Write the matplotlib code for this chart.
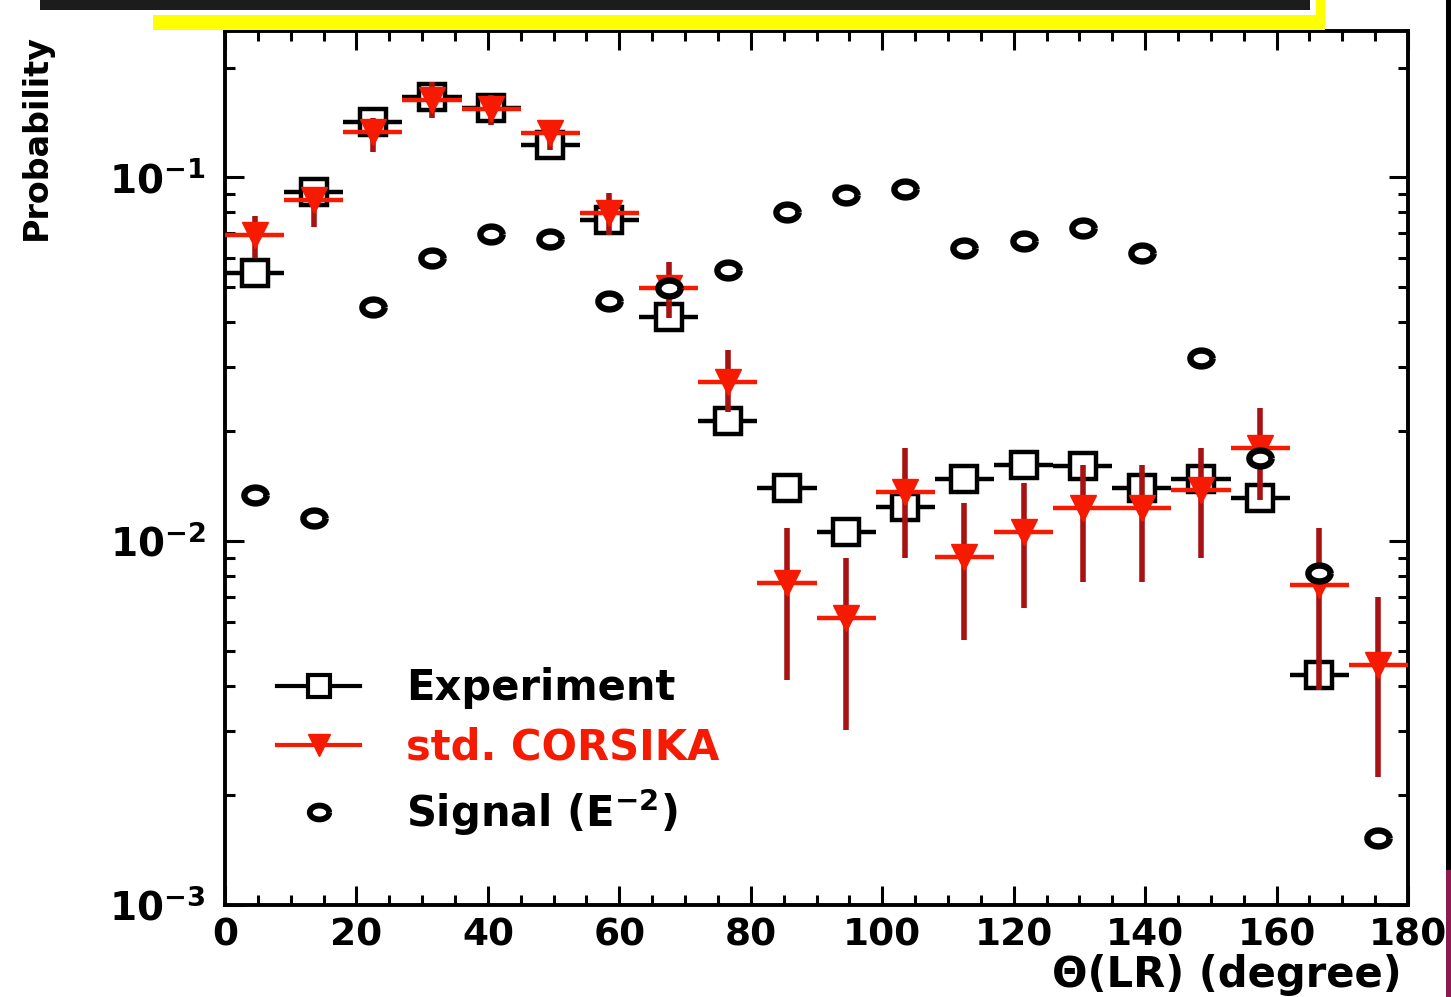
import numpy as np
import matplotlib.pyplot as plt
from matplotlib.ticker import MultipleLocator, LogLocator, NullFormatter, FuncFormatter
from matplotlib.lines import Line2D
from matplotlib.patches import Rectangle

# bin centres of theta(LR), 9 degree bins
theta = [4.5, 13.5, 22.5, 31.5, 40.5, 49.5, 58.5, 67.5, 76.5, 85.5,
         94.5, 103.5, 112.5, 121.5, 130.5, 139.5, 148.5, 157.5, 166.5, 175.5]
half_bin = 4.5

experiment = [0.0545, 0.091, 0.1415, 0.166, 0.155, 0.1225, 0.0762, 0.0412, 0.0214, 0.0140,
              0.01058, 0.0124, 0.0148, 0.0162, 0.0161, 0.0140, 0.0148, 0.0131, 0.00428, np.nan]

corsika = [0.0693, 0.0865, 0.133, 0.163, 0.154, 0.132, 0.0796, 0.0496, 0.0273, 0.00767,
           0.00614, 0.01364, 0.00904, 0.01058, 0.01232, 0.01232, 0.01381, 0.01801, 0.00757, 0.00456]
corsika_hi = [0.0781, 0.0939, 0.145, 0.182, 0.168, 0.1436, 0.0903, 0.0584, 0.0335, 0.01086,
              0.00898, 0.01801, 0.01272, 0.01443, 0.01617, 0.01617, 0.01801, 0.02319, 0.01086, 0.00702]
corsika_lo = [0.0599, 0.0729, 0.117, 0.145, 0.139, 0.1186, 0.0693, 0.0410, 0.0226, 0.00415,
              0.00303, 0.00898, 0.00535, 0.00655, 0.00772, 0.00772, 0.00898, 0.01297, 0.00390, 0.00225]

signal = [0.01336, 0.01156, 0.0439, 0.0599, 0.0697, 0.0676, 0.0457, 0.0496, 0.0555, 0.0802,
          0.0892, 0.0927, 0.0638, 0.0667, 0.0724, 0.0618, 0.0318, 0.0169, 0.00817, 0.00153]

plt.rcParams['font.family'] = 'DejaVu Sans'
plt.rcParams['font.weight'] = 'bold'
plt.rcParams['mathtext.fontset'] = 'dejavusans'
plt.rcParams['mathtext.default'] = 'bf'

W, H = 1451, 997
fig = plt.figure(figsize=(W / 100, H / 100), dpi=100)
ax = fig.add_axes([225 / W, 1 - 905 / H, (1408 - 225) / W, (905 - 31) / H])

red = '#f51a00'
dark_red = '#a81212'

# experiment
ax.errorbar(theta, experiment, xerr=half_bin, fmt='s', ms=19, mfc='white', mec='black',
            mew=3.2, ecolor='black', elinewidth=3.2, capsize=0, zorder=3)

# std. CORSIKA
c = np.array(corsika)
yerr = [c - np.array(corsika_lo), np.array(corsika_hi) - c]
ax.errorbar(theta, corsika, yerr=yerr, fmt='none', ecolor=dark_red, elinewidth=4,
            capsize=0, zorder=4)
ax.errorbar(theta, corsika, xerr=half_bin, fmt='v', ms=19, color=red, mec=red,
            elinewidth=3.2, capsize=0, zorder=5)

# signal, slightly flattened open circle
t = np.linspace(0, 2 * np.pi, 40)
ellipse = np.column_stack([1.4 * np.cos(t), np.sin(t)])
ax.plot(theta, signal, linestyle='none', marker=ellipse, ms=16, mfc='white', mec='black',
        mew=4.6, zorder=6)

ax.set_yscale('log')
ax.set_xlim(0, 180)
ax.set_ylim(1e-3, 0.252)

ax.xaxis.set_major_locator(MultipleLocator(20))
ax.xaxis.set_minor_locator(MultipleLocator(5))
ax.yaxis.set_major_locator(LogLocator(base=10))
ax.yaxis.set_minor_locator(LogLocator(base=10, subs=np.arange(2, 10)))
ax.yaxis.set_minor_formatter(NullFormatter())
ax.yaxis.set_major_formatter(FuncFormatter(lambda v, p: r'$10^{%d}$' % round(np.log10(v))))

ax.tick_params(which='both', direction='in', top=True, right=True, width=2.2, colors='black')
ax.tick_params(which='major', length=14)
ax.tick_params(which='minor', length=7)
ax.tick_params(axis='x', labelsize=27, pad=9)
ax.tick_params(axis='y', labelsize=28, pad=14)
for s in ax.spines.values():
    s.set_linewidth(2.8)

ax.set_xlabel('Θ(LR) (degree)', fontsize=30, fontweight='bold', ha='right', x=0.995, labelpad=0)
fig.text(36 / W, 1 - 34 / H, 'Probability', rotation=90, fontsize=24, fontweight='bold',
         ha='center', va='top')

handles = [
    Line2D([], [], color='black', lw=3, marker='s', ms=16, mfc='white', mec='black', mew=3),
    Line2D([], [], color=red, lw=3, marker='v', ms=16, mfc=red, mec=red),
    Line2D([], [], color='black', lw=0, marker=ellipse, ms=14, mfc='white', mec='black', mew=4.2),
]
labels = ['Experiment', 'std. CORSIKA', r'Signal (E$^{-2}$)']
leg = ax.legend(handles, labels, loc='upper left', bbox_to_anchor=(0.044, 0.272),
                frameon=False, fontsize=30, handlelength=2.0, handletextpad=1.1,
                labelspacing=0.42, borderpad=0, borderaxespad=0)
leg.get_texts()[1].set_color(red)

# scan artefacts around the original figure
def fig_rect(x0, y0, x1, y1, color):
    fig.add_artist(Rectangle((x0 / W, 1 - y1 / H), (x1 - x0) / W, (y1 - y0) / H,
                             transform=fig.transFigure, color=color, lw=0, zorder=10))

fig_rect(40, 0, 1310, 10, '#1c1c1c')
fig_rect(153, 15, 1325, 30, '#ffff00')
fig_rect(1316, 0, 1325, 30, '#ffff00')
fig_rect(1446, 0, 1451, 870, 'black')
fig_rect(1446, 870, 1451, 997, '#8a1a50')

fig.savefig('out.png', dpi=100)
